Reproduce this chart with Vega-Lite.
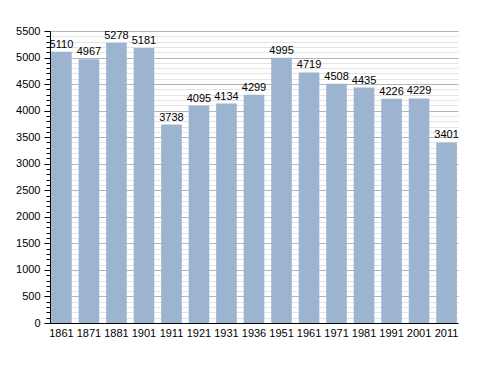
{
  "$schema": "https://vega.github.io/schema/vega-lite/v6.json",
  "width": 408,
  "height": 292,
  "autosize": {"type": "none"},
  "padding": {"left": 50, "top": 31, "right": 30, "bottom": 50},
  "background": "white",
  "config": {
    "view": {"stroke": null},
    "font": "Liberation Sans",
    "axis": {"labelFont": "Liberation Sans", "labelColor": "#000", "labelFontSize": 11}
  },
  "data": {
    "values": [
      {"year": "1861", "pop": 5110},
      {"year": "1871", "pop": 4967},
      {"year": "1881", "pop": 5278},
      {"year": "1901", "pop": 5181},
      {"year": "1911", "pop": 3738},
      {"year": "1921", "pop": 4095},
      {"year": "1931", "pop": 4134},
      {"year": "1936", "pop": 4299},
      {"year": "1951", "pop": 4995},
      {"year": "1961", "pop": 4719},
      {"year": "1971", "pop": 4508},
      {"year": "1981", "pop": 4435},
      {"year": "1991", "pop": 4226},
      {"year": "2001", "pop": 4229},
      {"year": "2011", "pop": 3401}
    ]
  },
  "encoding": {
    "x": {
      "field": "year", "type": "ordinal", "sort": null,
      "scale": {"paddingInner": 0.25, "paddingOuter": 0.04},
      "axis": {"title": null, "labelAngle": 0, "ticks": false, "domainColor": "#000", "domainWidth": 1, "labelPadding": 4}
    }
  },
  "layer": [
    {
      "mark": {"type": "bar", "color": "#9db4d0", "opacity": 0},
      "encoding": {
        "y": {"field": "pop", "type": "quantitative", "scale": {"domain": [0, 5500], "nice": false},
          "axis": {"title": null, "orient": "left", "values": [0,100,200,300,400,500,600,700,800,900,1000,1100,1200,1300,1400,1500,1600,1700,1800,1900,2000,2100,2200,2300,2400,2500,2600,2700,2800,2900,3000,3100,3200,3300,3400,3500,3600,3700,3800,3900,4000,4100,4200,4300,4400,4500,4600,4700,4800,4900,5000,5100,5200,5300,5400,5500],
            "labels": false, "grid": true, "gridColor": "#e4e4e4", "gridWidth": 1, "domain": false, "ticks": true, "tickColor": "#000", "tickSize": 4}}
      }
    },
    {
      "mark": {"type": "bar", "color": "#9db4d0"},
      "encoding": {
        "y": {"field": "pop", "type": "quantitative", "scale": {"domain": [0, 5500], "nice": false},
          "axis": {"title": null, "orient": "left", "format": "d", "values": [0,500,1000,1500,2000,2500,3000,3500,4000,4500,5000,5500],
            "grid": true, "gridColor": "#b4b4b4", "gridWidth": 1, "domainColor": "#000", "tickColor": "#000", "tickSize": 6, "labelPadding": 4}}
      }
    },
    {
      "mark": {"type": "text", "baseline": "bottom", "dy": -2, "fontSize": 11, "color": "#000"},
      "encoding": {
        "y": {"field": "pop", "type": "quantitative", "scale": {"domain": [0, 5500], "nice": false}, "axis": null},
        "text": {"field": "pop", "type": "quantitative", "format": "d"}
      }
    }
  ],
  "resolve": {"axis": {"y": "independent"}}
}
